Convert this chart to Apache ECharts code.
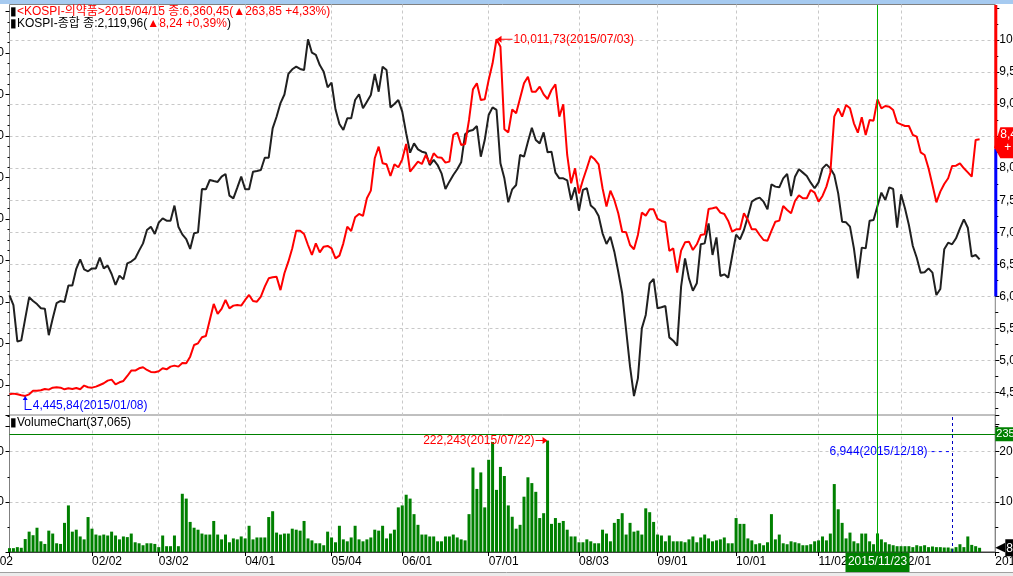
<!DOCTYPE html>
<html><head><meta charset="utf-8">
<script src="https://cdn.jsdelivr.net/npm/echarts@6/dist/echarts.min.js"></script>
<style>html,body{margin:0;padding:0;background:#fff;overflow:hidden}#c{width:1013px;height:576px}</style>
</head><body><div id="c"></div><script>
// ---- data ----
const tradingDays2015 = [
  [2,5,6,7,8,9,12,13,14,15,16,19,20,21,22,23,26,27,28,29,30],
  [2,3,4,5,6,9,10,11,12,13,16,17,23,24,25,26,27],
  [2,3,4,5,6,9,10,11,12,13,16,17,18,19,20,23,24,25,26,27,30,31],
  [1,2,3,6,7,8,9,10,13,14,15,16,17,20,21,22,23,24,27,28,29,30],
  [4,6,7,8,11,12,13,14,15,18,19,20,21,22,26,27,28,29],
  [1,2,3,4,5,8,9,10,11,12,15,16,17,18,19,22,23,24,25,26,29,30],
  [1,2,3,6,7,8,9,10,13,14,15,16,17,20,21,22,23,24,27,28,29,30,31],
  [3,4,5,6,7,10,11,12,13,17,18,19,20,21,24,25,26,27,28,31],
  [1,2,3,4,7,8,9,10,11,14,15,16,17,18,21,22,23,24,25,30],
  [1,2,5,6,7,8,12,13,14,15,16,19,20,21,22,23,26,27,28,29,30],
  [2,3,4,5,6,9,10,11,12,13,16,17,18,19,20,23,24,25,26,27,30],
  [1,2,3,4,7,8,9,10,11,14,15,16,17,18,21,22,23,24,28,29,30]
];
const pharmaClose = [
  4471,4482,4471,4456,4445.84,4471,4528,4528,4534,4555,4544,4575,4581,4575,4549,4565,4555,4570,4549,4607,4581,
  4575,4591,4617,4643,4685,4700,4627,4659,4679,4757,4841,4841,4877,4893,4851,4820,4815,
  4830,4877,4861,4903,4919,4903,4960,4955,5059,5241,5267,5361,5381,5631,5881,5725,5803,5943,5813,5855,5865,5855,
  5943,6021,5928,5917,5995,6151,6281,6297,6307,6096.6,6360.45,6541,6749,7025,7025,6973,6801,6645,6827,6687,6775,6786,
  6749,6593,6635,6827,7087,7020,7233,7285,7254,7530,7649,8154,8336,8076,8060,7878,8060,8013,
  8138,8377,7946,8024,8102,8065,8206,8076,8232,8169,8164,8086,8102,8518,8554,8362,8377,8752,9230,9324,9064,9074,
  9376,9636,10011.73,9896,8606,8559,8918,8856,9090,9324,9428,9194,9194,9272,9152,9079,9220,9308,8804,8996,8206,7764,7998,
  7607,7816,7998,8190,8138,8060,7686,7400,7649,7504,7296,7009,6999,6801,6734,6957,7306,7259,7358,7358,
  7207,7176,7155,6708,6749,6370,6713,6843,6853,6723,6812,6957,6968,7363,7374,7389,7306,7285,7176,7009,
  7046,7046,7296,7192,7046,7046,6957,6879,6869,7020,7165,7181,7410,7347,7296,7488,7576,7530,7530,7660,7618,
  7478,7566,7712,7930,8804,8934,8804,8986,8934,8700,8554,8793,8518,8752,8741,9074,8934,8970,8960,8908,8710,
  8684,8658,8658,8518,8492,8247,8206,7998,7738,7467,7634,7753,7842,8034,8039,8076,7998,7935,7868,8440,8450
];
const kospiClose = [
  1926.44,1917,1882,1883,1904,1924.5,1921,1918,1914,1913.6,1888,1904,1919,1921,1920,1936,1936,1952,1961,1951.5,1949.6,
  1952.4,1952.4,1962.7,1952.4,1955,1947,1936.4,1945.4,1941.8,1957.3,1959,1962,1969.5,1976.5,1989.4,1992.6,1985.5,
  1996.5,2000.6,1998.4,1998.4,2012.9,1992.6,1985.2,1980.7,1971.1,1986.2,1987.1,2028.9,2028.6,2037.6,2036.6,2035.7,2040.8,2043.4,2022.5,2019.9,2030.2,2040.8,
  2028.6,2028.6,2045.6,2046.3,2047.2,2059.1,2059.1,2087.4,2098.6,2111.72,2119.96,2139.8,2144.3,2146.8,2144.6,2143.6,2173.2,2160.3,2158.1,2148.4,2142,2126.9,
  2131.4,2105.7,2091.6,2085.8,2097,2097,2114.7,2120.2,2106.7,2113.1,2119.5,2139.8,2122.7,2146.8,2143.6,2107.6,2110.8,2114.7,
  2103.5,2082.6,2063.9,2072.9,2067.1,2064.9,2063.9,2052,2056.9,2052,2044,2028.9,2036,2042.4,2047.9,2054.6,2081.6,2084.8,2085.8,2089.6,2060.1,2076.1,
  2100.2,2107.6,2105.1,2053.7,2039.2,2016.1,2028.6,2032.8,2061.7,2060.1,2074.5,2088,2076.1,2072.9,2083.5,2064.3,2064.9,2044.7,2039.2,2039.2,2037.3,2018.3,2030.5,
  2008,2028,2029.6,2012.9,2009.6,2002.9,1986.2,1975.9,1983,1968.5,1949.2,1928.4,1893,1857.7,1829.4,1846.4,1894.6,1907.5,1938,1942.2,
  1913.9,1914.9,1916.1,1885.9,1882.7,1877.9,1934.8,1962.1,1942.8,1930.9,1938,1975.6,1976.5,1995.8,1965.3,1982.3,1945.1,1946.7,1943.5,1964.3,
  1984.9,1980.4,1989.4,2002.3,2016.7,2019.3,2020.6,2016.7,2009.3,2033.4,2031.2,2030.5,2039.2,2043.4,2022.2,2040.8,2047.9,2044.7,2041.4,2035,2029.6,
  2035.3,2048.8,2052.7,2048.8,2042.4,2024.7,1997.4,1996.8,1992.6,1971.7,1942.8,1972.4,1971.7,1998.4,1999,2012.5,2025.4,2018.3,2030.5,2028.9,1991.6,
  2023.8,2010.3,1994.2,1974,1962.7,1948.3,1948.6,1952.4,1948.3,1926.7,1932.5,1970.8,1977.2,1975.6,1981.4,1991,1999.7,1991.6,1963.7,1965.3,1961.1
];
const volume = [
  7700,7700,9700,8400,25800,40600,33500,48400,21300,16100,42600,36800,17400,16100,58100,92900,40600,44500,31000,25200,69700,
  46500,34800,32900,34800,32900,40600,32900,25200,31000,29700,36800,19400,17400,13500,17400,17400,16100,
  9700,32900,11600,11600,32900,11600,116100,106500,60000,48400,44500,36800,34800,34800,61900,34800,25200,34800,19400,27100,25200,31000,
  27100,52300,25200,29000,29000,29000,69700,81300,38700,34800,36800,36800,46500,44500,42600,61900,27100,23200,17400,17400,13500,40600,
  29000,19400,52300,25200,21300,29000,52300,25200,21300,25200,29000,44500,42600,52300,27100,36800,44500,89000,
  92900,114200,106500,75500,54200,34800,34800,31000,31000,21300,21300,31000,31000,34800,29000,25200,23200,75500,168400,125800,158700,89000,
  183900,219400,123900,169700,151600,92900,70300,46500,54200,110300,149000,137400,120000,67700,77400,222243,56100,67700,58100,61900,44500,31000,31000,
  19400,19400,25200,21300,17400,17400,44500,36800,21300,58100,65800,77400,34800,58100,40600,42600,34800,87100,79400,60000,
  34800,32900,21300,32900,21300,21300,21300,19400,25200,31000,19400,29000,34800,27100,21300,23200,25200,29000,17400,17400,
  67700,56100,56100,27100,23200,15500,17400,13500,19400,75500,25200,34800,17400,15500,21300,19400,17400,13500,13500,15500,21300,
  23200,31000,23200,36800,135500,85200,58100,27100,38700,21300,17400,36800,36800,21300,15500,37065,25200,19400,15500,13500,11600,
  11600,11600,11600,9700,13500,11600,13500,9700,11000,9700,9700,9000,9000,6944,9700,15500,9700,31000,14200,11600,8400
];
const cursorDate = '2015/11/23';
const volumeCeiling = 235000;
const axisBarSplit = 8300;
const axisBarLow = 6000;
const legendLine1 = '<KOSPI-의약품>2015/04/15 종:6,360,45(▲263,85 +4,33%)';
const legendLine2a = 'KOSPI-종합 종:2,119,96(';
const legendLine2b = '▲8,24 +0,39%';
const volumeTitle = 'VolumeChart(37,065)';

// ---- helpers ----
const FONT = "'Liberation Sans','Noto Sans CJK KR',sans-serif";
const pad = n => (n < 10 ? '0' : '') + n;
const fmtInt = v => String(Math.round(v)).replace(/\B(?=(\d{3})+(?!\d))/g, ',');
const fmtDec = v => { const p = v.toFixed(2).split('.'); return fmtInt(+p[0]) + ',' + p[1]; };

const categories = [];
tradingDays2015.forEach((days, m) => days.forEach(d => categories.push('2015/' + pad(m + 1) + '/' + pad(d))));
const axisCats = categories.concat(['', '', '', '2015']);
const lastIdx = axisCats.length - 1;
const monthStart = new Set();
for (let i = 1; i < categories.length; i++) {
  if (categories[i].slice(5, 7) !== categories[i - 1].slice(5, 7)) monthStart.add(i);
}
let maxI = 0, minI = 0, vMaxI = 0, vMinI = 0;
pharmaClose.forEach((v, i) => { if (v > pharmaClose[maxI]) maxI = i; if (v < pharmaClose[minI]) minI = i; });
volume.forEach((v, i) => { if (v > volume[vMaxI]) vMaxI = i; if (v < volume[vMinI]) vMinI = i; });
const lastPharma = pharmaClose[pharmaClose.length - 1];
const lastVol = volume[volume.length - 1];

const GL = 9.5, GR = 17.7;
const gridLine = '#c8c8c8';
const gridBase = { left: GL, right: GR, containLabel: false, outerBoundsMode: 'none' };
const baseX = (g, extra) => Object.assign({
  type: 'category', gridIndex: g, data: axisCats, boundaryGap: false, show: false
}, extra || {});

const option = {
  animation: false,
  backgroundColor: '#ffffff',
  textStyle: { fontFamily: FONT, fontSize: 12 },
  grid: [
    Object.assign({ top: 7.95, height: 416.55 }, gridBase),
    Object.assign({ top: 11.5, height: 415 }, gridBase),
    Object.assign({ top: 415, height: 137, show: true, borderColor: '#808080', borderWidth: 1 }, gridBase),
    Object.assign({ top: 4.5, height: 547.5, show: true, borderColor: '#808080', borderWidth: 1 }, gridBase)
  ],
  xAxis: [
    baseX(0),
    baseX(1),
    baseX(2, {
      show: true,
      axisLine: { show: true, lineStyle: { color: '#404040' } },
      axisTick: { show: true, length: 4, interval: i => i === 0 || monthStart.has(i) || i === lastIdx, lineStyle: { color: '#000' } },
      axisLabel: {
        show: true, interval: i => monthStart.has(i) || i === lastIdx, align: 'left', margin: 4,
        color: '#000', fontSize: 12, fontFamily: FONT,
        formatter: v => (v === '2015' ? '2015' : v.slice(5))
      },
      splitLine: { show: false }
    }),
    baseX(3, {
      show: true,
      axisLine: { show: false }, axisTick: { show: false }, axisLabel: { show: false },
      splitLine: { show: true, interval: i => monthStart.has(i), lineStyle: { color: gridLine, type: [3, 3], width: 1 } }
    })
  ],
  yAxis: [
    { // 0: right, pharma
      type: 'value', gridIndex: 0, position: 'right', min: 4000, max: 10500, interval: 500,
      axisLine: { show: false },
      axisTick: { show: true, length: 4, lineStyle: { color: '#000' } },
      minorTick: { show: true, splitNumber: 2, length: 3, lineStyle: { color: '#000' } },
      axisLabel: { margin: 4, color: '#000', fontSize: 12, fontFamily: FONT, showMinLabel: false, showMaxLabel: false, formatter: v => fmtInt(v) },
      splitLine: { show: true, showMinLine: false, showMaxLine: false, lineStyle: { color: gridLine, type: [3, 3] } }
    },
    { // 1: left, kospi
      type: 'value', gridIndex: 1, position: 'left', min: 1800, max: 2200, interval: 40,
      axisLine: { show: false },
      axisTick: { show: true, length: 4, lineStyle: { color: '#000' } },
      minorTick: { show: true, splitNumber: 4, length: 2, lineStyle: { color: '#000' } },
      axisLabel: { margin: 5.5, color: '#000', fontSize: 12, fontFamily: FONT, showMinLabel: false, showMaxLabel: false, formatter: v => fmtInt(v) },
      splitLine: { show: false }
    },
    { // 2: right, volume
      type: 'value', gridIndex: 2, position: 'right', min: 0, max: 273200, interval: 100000,
      axisLine: { show: false },
      axisTick: { show: true, length: 4, lineStyle: { color: '#000' } },
      minorTick: { show: true, splitNumber: 2, length: 3, lineStyle: { color: '#000' } },
      axisLabel: { margin: 4, color: '#000', fontSize: 12, fontFamily: FONT, showMinLabel: false, showMaxLabel: false, formatter: v => fmtInt(v) },
      splitLine: { show: true, showMinLine: false, showMaxLine: false, lineStyle: { color: gridLine, type: [3, 3] } }
    },
    { // 3: left, volume
      type: 'value', gridIndex: 2, position: 'left', min: 0, max: 273200, interval: 100000,
      axisLine: { show: false },
      axisTick: { show: true, length: 4, lineStyle: { color: '#000' } },
      minorTick: { show: true, splitNumber: 2, length: 2, lineStyle: { color: '#000' } },
      axisLabel: { margin: 5.5, color: '#000', fontSize: 12, fontFamily: FONT, showMinLabel: false, showMaxLabel: false, formatter: v => fmtInt(v) },
      splitLine: { show: false }
    },
    { type: 'value', gridIndex: 3, min: 0, max: 1, show: false }
  ],
  series: [
    {
      name: 'KOSPI-의약품', type: 'line', xAxisIndex: 0, yAxisIndex: 0, data: pharmaClose,
      symbol: 'none', lineStyle: { color: '#ff0000', width: 2 }, itemStyle: { color: '#ff0000' }, z: 3,
      markPoint: {
        silent: true, animation: false,
        data: [
          {
            coord: [categories[maxI], pharmaClose[maxI]],
            symbol: 'path://M0,3.5 L5,0 L5,3 L16,3 L16,4 L5,4 L5,7 Z', symbolSize: [16, 7], symbolOffset: [8, 0],
            itemStyle: { color: '#ff0000' },
            label: { show: true, position: 'right', distance: 1, color: '#ff0000', fontSize: 12, fontFamily: FONT,
              formatter: fmtDec(pharmaClose[maxI]) + '(' + categories[maxI] + ')' }
          },
          {
            coord: [categories[minI], pharmaClose[minI]],
            symbol: 'path://M2.5,0 L5,4 L3,4 L3,13 L9,13 L9,14 L2,14 L2,4 L0,4 Z', symbolSize: [9, 14], symbolOffset: [2, 7],
            itemStyle: { color: '#0000ff' },
            label: { show: true, position: 'right', distance: 1, offset: [0, 3], color: '#0000ff', fontSize: 12, fontFamily: FONT,
              formatter: fmtDec(pharmaClose[minI]) + '(' + categories[minI] + ')' }
          }
        ]
      }
    },
    {
      name: 'KOSPI-종합', type: 'line', xAxisIndex: 1, yAxisIndex: 1, data: kospiClose,
      symbol: 'none', lineStyle: { color: '#202020', width: 2 }, itemStyle: { color: '#202020' }, z: 2
    },
    {
      name: 'Volume', type: 'bar', xAxisIndex: 2, yAxisIndex: 2, data: volume, barWidth: 3,
      itemStyle: { color: '#008000' },
      markLine: {
        silent: true, symbol: ['none', 'none'], animation: false,
        data: [
          { yAxis: volumeCeiling, lineStyle: { color: '#008000', type: 'solid', width: 1 },
            label: { show: true, position: 'end', distance: 0, formatter: fmtInt(volumeCeiling), color: '#fff',
              backgroundColor: '#008000', padding: [2, 1, 1, 1], fontSize: 11, fontFamily: FONT } },
          { xAxis: categories[vMinI], lineStyle: { color: '#0000c0', type: [3, 3], width: 1 }, label: { show: false } },
          { yAxis: lastVol, lineStyle: { color: 'rgba(0,0,0,0)', width: 0 },
            label: { show: true, position: 'end', distance: 0, formatter: '{t|◀}{b|' + fmtInt(lastVol) + '}',
              rich: { t: { color: '#000', fontSize: 13, fontFamily: 'DejaVu Sans' },
                      b: { color: '#fff', backgroundColor: '#000', padding: [3, 2, 2, 1], fontSize: 12, fontFamily: FONT } } } }
        ]
      },
      markPoint: {
        silent: true, animation: false,
        data: [
          {
            coord: [categories[vMaxI], volume[vMaxI]],
            symbol: 'path://M12,3.5 L7,0 L7,3 L0,3 L0,4 L7,4 L7,7 Z', symbolSize: [12, 7], symbolOffset: [-6, 0],
            itemStyle: { color: '#ff0000' },
            label: { show: true, position: 'left', distance: 1, color: '#ff0000', fontSize: 12, fontFamily: FONT,
              formatter: fmtInt(volume[vMaxI]) + '(' + categories[vMaxI] + ')' }
          },
          {
            coord: [categories[vMinI], 200000], symbol: 'circle', symbolSize: 1,
            itemStyle: { color: 'rgba(0,0,0,0)' },
            label: { show: true, position: 'left', distance: 2, color: '#0000ff', fontSize: 12, fontFamily: FONT,
              formatter: fmtInt(volume[vMinI]) + '(' + categories[vMinI] + ') - - -' }
          }
        ]
      }
    }
  ]
};

const chart = echarts.init(document.getElementById('c'));
chart.setOption(option);

const ySplit = chart.convertToPixel({ yAxisIndex: 0 }, axisBarSplit);
const yLow = chart.convertToPixel({ yAxisIndex: 0 }, axisBarLow);
const yLast = chart.convertToPixel({ yAxisIndex: 0 }, lastPharma);
const axX = chart.convertToPixel({ xAxisIndex: 0 }, lastIdx);
const cxPix = Math.round(chart.convertToPixel({ xAxisIndex: 2 }, cursorDate));
const yVolBase = chart.convertToPixel({ yAxisIndex: 2 }, 0);

chart.setOption({
  graphic: [
    { type: 'rect', shape: { x: 0, y: 0, width: 1013, height: 4 }, style: { fill: '#a6caf0' }, z: 100 },
    { type: 'rect', shape: { x: 0, y: 573, width: 1013, height: 3 }, style: { fill: '#ececec' }, z: 100 },
    { type: 'line', shape: { x1: 0, y1: 572.5, x2: 1013, y2: 572.5 }, style: { stroke: '#a0a0a0', lineWidth: 1 }, z: 100 },
    { type: 'text', x: 10, y: 6, z: 100, style: {
        text: '{k|▮}{r|' + legendLine1 + '}',
        rich: { k: { fill: '#000', font: '12px ' + FONT }, r: { fill: '#ff0000', font: '12px ' + FONT } },
        font: '12px ' + FONT } },
    { type: 'text', x: 10, y: 18, z: 100, style: {
        text: '{k|▮' + legendLine2a + '}{r|' + legendLine2b + '}{k|)}',
        rich: { k: { fill: '#000', font: '12px ' + FONT }, r: { fill: '#ff0000', font: '12px ' + FONT } },
        font: '12px ' + FONT } },
    { type: 'text', x: 10, y: 417, z: 100, style: { text: '▮' + volumeTitle, fill: '#000', font: '12px ' + FONT } },
    { type: 'text', x: 13, y: 556, z: 100, style: { text: categories[0].slice(5), fill: '#000', font: '12px ' + FONT, align: 'right' } },
    { type: 'rect', shape: { x: axX - 1, y: 5, width: 3, height: ySplit - 5 }, style: { fill: '#ff0000' }, z: 90 },
    { type: 'rect', shape: { x: axX - 1, y: ySplit, width: 3, height: yLow - ySplit }, style: { fill: '#0000ff' }, z: 90 },
    { type: 'polygon', z: 95, shape: { points: [[axX - 1, yLast + 8], [axX + 5, yLast - 12], [1013, yLast - 12], [1013, yLast + 19], [axX + 5, yLast + 19]] }, style: { fill: '#ff0000' } },
    { type: 'text', x: axX + 5, y: yLast - 11, z: 96, style: { text: fmtInt(lastPharma), fill: '#fff', font: '12px ' + FONT } },
    { type: 'text', x: axX + 9, y: yLast + 2, z: 96, style: { text: '+', fill: '#fff', font: '12px ' + FONT } },
    // cursor line & date box
    { type: 'rect', z: 80, shape: { x: cxPix, y: 5, width: 1, height: yVolBase - 5 }, style: { fill: '#00b000', stroke: null } },
    { type: 'rect', z: 98, shape: { x: cxPix - 31.5, y: yVolBase + 0.5, width: 64, height: 20 }, style: { fill: '#008000' } },
    { type: 'text', z: 99, x: cxPix + 0.5, y: yVolBase + 4, style: { text: cursorDate, fill: '#ffffff', font: '12px ' + FONT, align: 'center' } }
  ]
});
</script></body></html>
